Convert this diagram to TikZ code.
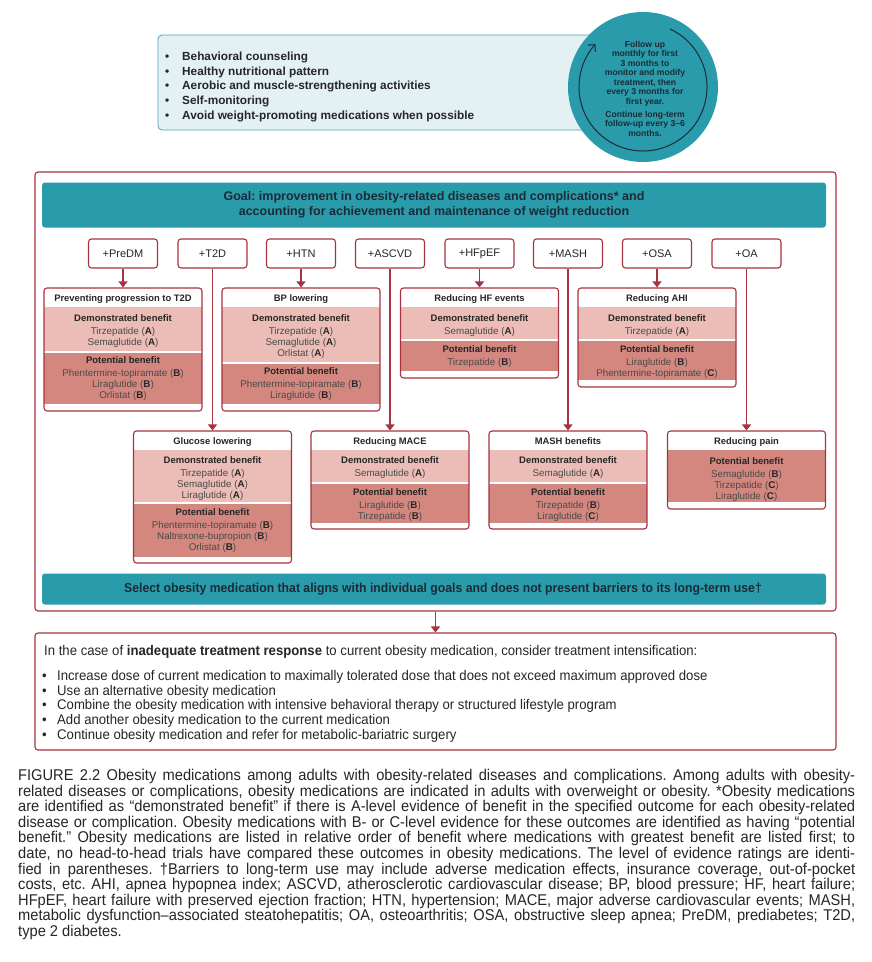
\documentclass[tikz,border=0pt]{standalone}
\usepackage{fontspec}
\setmainfont{Liberation Sans}
\newfontfamily\condf[FakeStretch=0.94]{Liberation Sans}
\usetikzlibrary{arrows.meta}
\definecolor{teal1}{HTML}{2A9BAB}
\definecolor{dred}{HTML}{A8323F}
\definecolor{lblue}{HTML}{E4F1F4}
\definecolor{tborder}{HTML}{4BA3B1}
\definecolor{demof}{HTML}{EBBDB6}
\definecolor{potf}{HTML}{D4877F}
\definecolor{txt}{HTML}{262626}
\definecolor{drug}{HTML}{4A4A4A}
\definecolor{navy}{HTML}{1C2B36}
\newcommand\dg[2]{#1 (\textbf{\color{txt}#2})}
\newcommand\rbox[7]{% name, cx, top, demoEnd, potStart, potEnd, bottom
  \fill[demof] ({#2-79},{#3+19}) rectangle ({#2+79},#4);
  \fill[potf] ({#2-79},#5) rectangle ({#2+79},#6);
  \node[rframe, minimum height={(#7)-(#3)}] (#1) at (#2,{(#3+#7)/2}) {};
}
\newcommand\band[5]{\node[bandtxt] (#1) at (#2,{#3-3.8}) {{\fontsize{9.5}{11.4}\selectfont\bfseries\color{txt}#4}\\[1.4pt]#5};}
\begin{document}
\frenchspacing
\begin{tikzpicture}[x=1pt,y=-1pt,
  cond/.style={draw=dred, line width=1.1pt, rounded corners=3pt, minimum width=69pt, minimum height=29pt, inner sep=0pt, font=\fontsize{11}{12}\selectfont, text=txt, fill=white},
  rframe/.style={draw=dred, line width=1.1pt, rounded corners=3pt, minimum width=158pt, inner sep=0pt},
  ttl/.style={font=\fontsize{9.4}{11}\selectfont\bfseries, text=txt, anchor=base, inner sep=0pt},
  bandtxt/.style={font=\fontsize{9.8}{11.4}\selectfont, text=drug, align=center, inner sep=0pt, anchor=north},
  link/.style={draw=dred, line width=1.1pt, -{Triangle[length=6pt,width=9pt]}},
  tealbar/.style={fill=teal1, rounded corners=3pt, inner sep=0pt},
  bigframe/.style={draw=dred, line width=1.1pt, rounded corners=3pt, minimum width=801pt, inner sep=0pt},
  lsitem/.style={anchor=base west, inner sep=0pt, text=txt, font=\fontsize{11.8}{13}\selectfont\bfseries},
  initem/.style={anchor=base west, inner sep=0pt, text=txt, font=\condf\fontsize{14}{15}\selectfont},
  capline/.style={anchor=base west, inner sep=0pt, text=txt, font=\condf\fontsize{15.6}{16}\selectfont},
]
\useasboundingbox (0,0) rectangle (871,962);
\fill[white] (0,0) rectangle (871,962);

% ---- lifestyle box and follow-up circle
\node[draw=tborder, fill=lblue, line width=0.8pt, rounded corners=4pt, minimum width=442pt, minimum height=95pt, inner sep=0pt] (lifestyle) at (379,82.5) {};
\node[lsitem] (ls1) at (165,60.2) {\makebox[17pt][l]{•}Behavioral counseling};
\node[lsitem] (ls2) at (165,75) {\makebox[17pt][l]{•}Healthy nutritional pattern};
\node[lsitem] (ls3) at (165,89.8) {\makebox[17pt][l]{•}Aerobic and muscle-strengthening activities};
\node[lsitem] (ls4) at (165,104.5) {\makebox[17pt][l]{•}Self-monitoring};
\node[lsitem] (ls5) at (165,119.2) {\makebox[17pt][l]{•}Avoid weight-promoting medications when possible};

\node[circle, fill=teal1, minimum size=150pt, inner sep=0pt] (followup) at (643,87) {};
\draw[navy, line width=1pt, -{Straight Barb[length=5pt,width=10pt]}] (followup.center) ++(-65:64) arc[start angle=-65, end angle=222, radius=64];
\node[anchor=north, align=center, inner sep=0pt, text=navy, font=\fontsize{8.6}{9.5}\selectfont\bfseries] (futxt) at (645,40.8)
  {Follow up\\monthly for first\\3 months to\\monitor and modify\\treatment, then\\every 3 months for\\first year.\\[3.6pt]Continue long-term\\follow-up every 3–6\\months.};

% ---- main frame
\node[bigframe, minimum height=439pt] (mainframe) at (435.5,391.5) {};
\node[tealbar, minimum width=784pt, minimum height=45pt, align=center, text=navy, font=\fontsize{12.5}{15}\selectfont\bfseries] (goal) at (434,205)
  {Goal: improvement in obesity-related diseases and complications* and\\accounting for achievement and maintenance of weight reduction};

% condition boxes
\node[cond] (predm) at (123,253.5) {+PreDM};
\node[cond] (t2d) at (212.5,253.5) {+T2D};
\node[cond] (htn) at (301,253.5) {+HTN};
\node[cond] (ascvd) at (390,253.5) {+ASCVD};
\node[cond] (hfpef) at (479.5,253.5) {+HFpEF};
\node[cond] (mash) at (568,253.5) {+MASH};
\node[cond] (osa) at (657,253.5) {+OSA};
\node[cond] (oa) at (746.5,253.5) {+OA};

% result boxes row 1
\rbox{prev}{123}{288}{351}{352.5}{404}{411}
\node[ttl] (prev-t) at (123,301.4) {Preventing progression to T2D};
\band{prev-d}{123}{318}{Demonstrated benefit}{\dg{Tirzepatide}{A}\\\dg{Semaglutide}{A}}
\band{prev-p}{123}{360}{Potential benefit}{\dg{Phentermine-topiramate}{B}\\\dg{Liraglutide}{B}\\\dg{Orlistat}{B}}

\rbox{bpl}{301}{288}{362}{363.5}{404}{411}
\node[ttl] (bpl-t) at (301,301.4) {BP lowering};
\band{bpl-d}{301}{318}{Demonstrated benefit}{\dg{Tirzepatide}{A}\\\dg{Semaglutide}{A}\\\dg{Orlistat}{A}}
\band{bpl-p}{301}{371}{Potential benefit}{\dg{Phentermine-topiramate}{B}\\\dg{Liraglutide}{B}}

\rbox{hfe}{479.5}{288}{339}{340.5}{371}{378}
\node[ttl] (hfe-t) at (479.5,301.4) {Reducing HF events};
\band{hfe-d}{479.5}{318}{Demonstrated benefit}{\dg{Semaglutide}{A}}
\band{hfe-p}{479.5}{349}{Potential benefit}{\dg{Tirzepatide}{B}}

\rbox{ahi}{657}{288}{339}{340.5}{380}{387}
\node[ttl] (ahi-t) at (657,301.4) {Reducing AHI};
\band{ahi-d}{657}{318}{Demonstrated benefit}{\dg{Tirzepatide}{A}}
\band{ahi-p}{657}{349}{Potential benefit}{\dg{Liraglutide}{B}\\\dg{Phentermine-topiramate}{C}}

% result boxes row 2
\rbox{glu}{212.5}{431}{502}{503.5}{557}{563}
\node[ttl] (glu-t) at (212.5,444.4) {Glucose lowering};
\band{glu-d}{212.5}{460}{Demonstrated benefit}{\dg{Tirzepatide}{A}\\\dg{Semaglutide}{A}\\\dg{Liraglutide}{A}}
\band{glu-p}{212.5}{512}{Potential benefit}{\dg{Phentermine-topiramate}{B}\\\dg{Naltrexone-bupropion}{B}\\\dg{Orlistat}{B}}

\rbox{mace}{390}{431}{482}{483.5}{523}{529}
\node[ttl] (mace-t) at (390,444.4) {Reducing MACE};
\band{mace-d}{390}{460}{Demonstrated benefit}{\dg{Semaglutide}{A}}
\band{mace-p}{390}{492}{Potential benefit}{\dg{Liraglutide}{B}\\\dg{Tirzepatide}{B}}

\rbox{mashb}{568}{431}{482}{483.5}{523}{529}
\node[ttl] (mashb-t) at (568,444.4) {MASH benefits};
\band{mashb-d}{568}{460}{Demonstrated benefit}{\dg{Semaglutide}{A}}
\band{mashb-p}{568}{492}{Potential benefit}{\dg{Tirzepatide}{B}\\\dg{Liraglutide}{C}}

\rbox{pain}{746.5}{431}{450}{450}{502}{509}
\node[ttl] (pain-t) at (746.5,444.4) {Reducing pain};
\band{pain-p}{746.5}{461}{Potential benefit}{\dg{Semaglutide}{B}\\\dg{Tirzepatide}{C}\\\dg{Liraglutide}{C}}

% connectors
\draw[link] (predm) -- (prev);
\draw[link] (t2d) -- (glu);
\draw[link] (htn) -- (bpl);
\draw[link] (ascvd) -- (mace);
\draw[link] (hfpef) -- (hfe);
\draw[link] (mash) -- (mashb);
\draw[link] (osa) -- (ahi);
\draw[link] (oa) -- (pain);

\node[tealbar, minimum width=784pt, minimum height=31pt] (select) at (434,589) {};
\node[inner sep=0pt, text=navy, font=\condf\fontsize{13}{14}\selectfont\bfseries] (selecttxt) at (443,589)
  {Select obesity medication that aligns with individual goals and does not present barriers to its long-term use†};

% ---- intensification box
\node[bigframe, minimum height=117pt] (intens) at (435.5,691.5) {};
\draw[link] (mainframe) -- (intens);
\node[initem] (in0) at (44,655.5) {In the case of \textbf{inadequate treatment response} to current obesity medication, consider treatment intensification:};
\node[initem] (in1) at (42,680.5) {\makebox[15pt][l]{•}Increase dose of current medication to maximally tolerated dose that does not exceed maximum approved dose};
\node[initem] (in2) at (42,695.2) {\makebox[15pt][l]{•}Use an alternative obesity medication};
\node[initem] (in3) at (42,709.9) {\makebox[15pt][l]{•}Combine the obesity medication with intensive behavioral therapy or structured lifestyle program};
\node[initem] (in4) at (42,724.6) {\makebox[15pt][l]{•}Add another obesity medication to the current medication};
\node[initem] (in5) at (42,739.3) {\makebox[15pt][l]{•}Continue obesity medication and refer for metabolic-bariatric surgery};

% ---- caption
\node[capline] (cap1) at (18,780.5) {\makebox[837pt][s]{FIGURE 2.2 Obesity medications among adults with obesity-related diseases and complications. Among adults with obesity-}};
\node[capline] (cap2) at (18,796.1) {\makebox[837pt][s]{related diseases or complications, obesity medications are indicated in adults with overweight or obesity. *Obesity medications}};
\node[capline] (cap3) at (18,811.7) {\makebox[837pt][s]{are identified as “demonstrated benefit” if there is A-level evidence of benefit in the specified outcome for each obesity-related}};
\node[capline] (cap4) at (18,827.3) {\makebox[837pt][s]{disease or complication. Obesity medications with B- or C-level evidence for these outcomes are identified as having “potential}};
\node[capline] (cap5) at (18,842.9) {\makebox[837pt][s]{benefit.” Obesity medications are listed in relative order of benefit where medications with greatest benefit are listed first; to}};
\node[capline] (cap6) at (18,858.5) {\makebox[837pt][s]{date, no head-to-head trials have compared these outcomes in obesity medications. The level of evidence ratings are identi-}};
\node[capline] (cap7) at (18,874.1) {\makebox[837pt][s]{fied in parentheses. †Barriers to long-term use may include adverse medication effects, insurance coverage, out-of-pocket}};
\node[capline] (cap8) at (18,889.7) {\makebox[837pt][s]{costs, etc. AHI, apnea hypopnea index; ASCVD, atherosclerotic cardiovascular disease; BP, blood pressure; HF, heart failure;}};
\node[capline] (cap9) at (18,905.3) {\makebox[837pt][s]{HFpEF, heart failure with preserved ejection fraction; HTN, hypertension; MACE, major adverse cardiovascular events; MASH,}};
\node[capline] (cap10) at (18,920.9) {\makebox[837pt][s]{metabolic dysfunction–associated steatohepatitis; OA, osteoarthritis; OSA, obstructive sleep apnea; PreDM, prediabetes; T2D,}};
\node[capline] (cap11) at (18,936.5) {type 2 diabetes.};
\end{tikzpicture}
\end{document}
